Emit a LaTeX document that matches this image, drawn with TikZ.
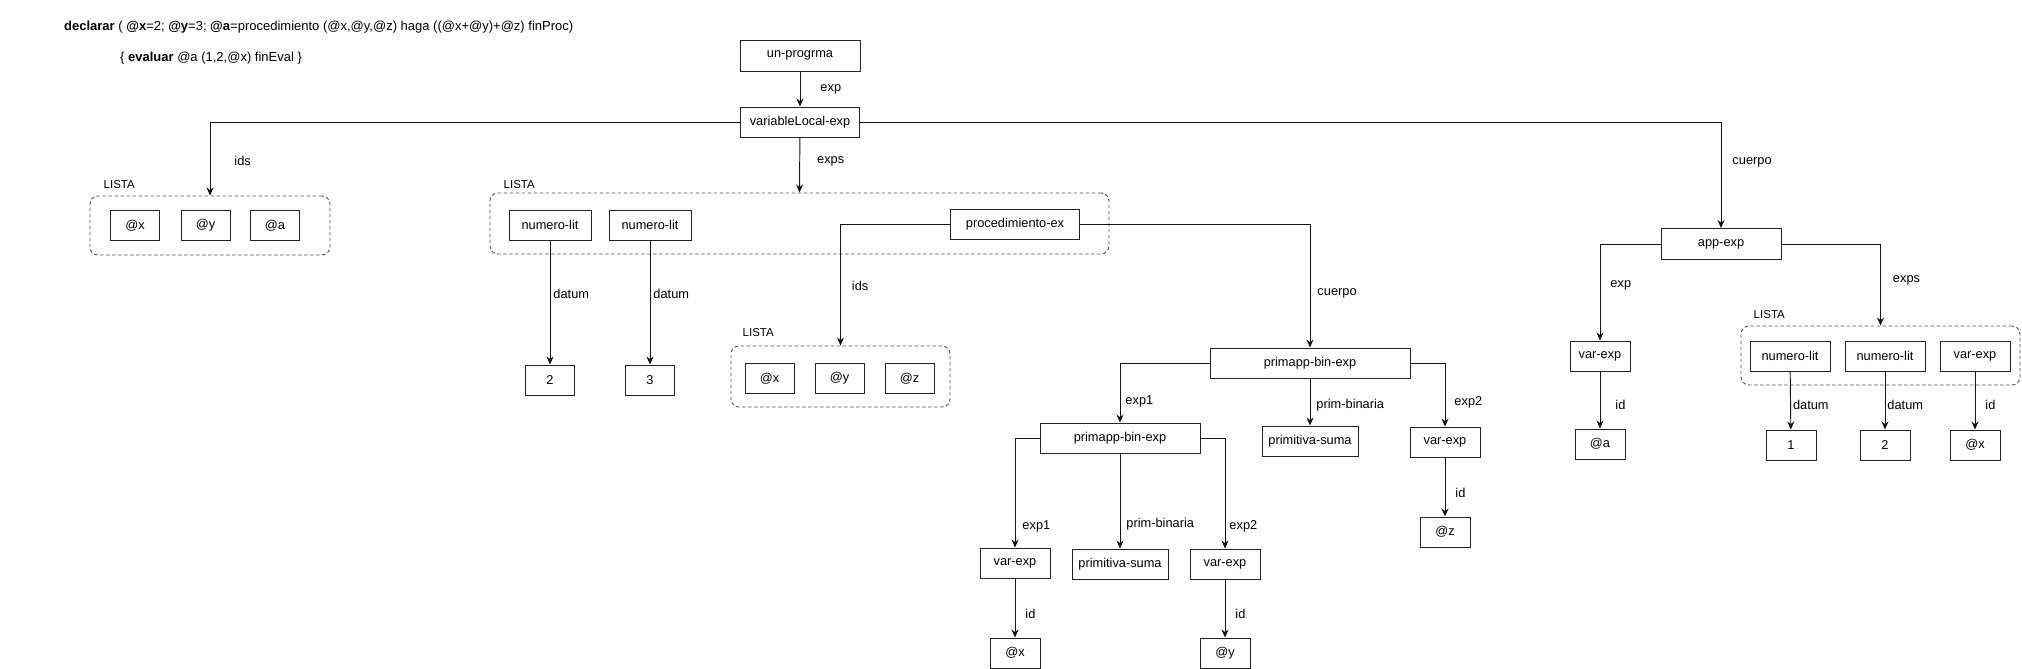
\documentclass[tikz,border=0pt]{standalone}
\usepackage{fontspec}
\setmainfont{Liberation Sans}
\usetikzlibrary{arrows.meta,positioning}
\definecolor{astborde}{RGB}{35,35,35}
\definecolor{astlinea}{RGB}{20,20,20}
\definecolor{astlista}{RGB}{85,85,85}

\begin{document}
\begin{tikzpicture}[x=1pt, y=-1pt,
  every node/.style={font=\fontsize{12.8}{15}\selectfont},
  caja/.style={draw=astborde, line width=0.95pt, minimum height=30pt, inner sep=0pt},
  lista/.style={draw=astlista, line width=0.95pt, dash pattern=on 3.5pt off 2.5pt, rounded corners=8pt, inner sep=0pt},
  flecha/.style={draw=astlinea, line width=0.95pt, -{Stealth[length=8pt,width=7pt]}},
  etiq/.style={anchor=west, inner sep=0pt, xshift=#1},
  etiq/.default=8pt,
  nombre/.style={inner sep=0pt},
  titlista/.style={inner sep=0pt, font=\fontsize{11.5}{13}\selectfont}]
  \useasboundingbox (0,0) rectangle (2022,669);

  \node[nombre, anchor=west, font=\fontsize{13}{15}\selectfont] (titulo1) at (64,27) {\textbf{declarar} ( \textbf{@x}=2; \textbf{@y}=3; \textbf{@a}=procedimiento (@x,@y,@z) haga ((@x+@y)+@z) finProc)};
  \node[nombre, anchor=west, font=\fontsize{13}{15}\selectfont] (titulo2) at (120,58) {\{ \textbf{evaluar} @a (1,2,@x) finEval \}};

  \node[caja, minimum width=120pt, minimum height=31pt] (unprog) at (800,55.5) {un-progrma};
  \node[caja, minimum width=119pt] (varloc) at (800,122) {variableLocal-exp};

  \node[lista, minimum width=240pt, minimum height=59pt] (lista1) at (210,225.5) {};
  \node[titlista, above right=7pt and 14pt of lista1.north west] (tlista1) {LISTA};
  \node[caja, minimum width=49pt] (ax1) at (135,225.5) {@x};
  \node[caja, minimum width=49pt] (ay1) at (205.5,225.5) {@y};
  \node[caja, minimum width=49pt] (aa1) at (275,225.5) {@a};

  \node[lista, minimum width=619pt, minimum height=61pt] (lista2) at (799.5,223.5) {};
  \node[titlista, above right=4pt and 14pt of lista2.north west] (tlista2) {LISTA};
  \node[caja, minimum width=82pt] (numlit1) at (550,225) {numero-lit};
  \node[caja, minimum width=82pt] (numlit2) at (650,225) {numero-lit};
  \node[caja, minimum width=129pt] (proc) at (1015,224.5) {procedimiento-ex};
  \node[caja, minimum width=49pt] (dos) at (550,380) {2};
  \node[caja, minimum width=49pt] (tres) at (650,380) {3};

  \node[lista, minimum width=219pt, minimum height=61pt] (lista3) at (840.5,376.5) {};
  \node[titlista, above right=9pt and 12pt of lista3.north west] (tlista3) {LISTA};
  \node[caja, minimum width=49pt] (ax3) at (769.5,378.5) {@x};
  \node[caja, minimum width=49pt] (ay3) at (839.5,378.5) {@y};
  \node[caja, minimum width=49pt] (az3) at (909.5,378.5) {@z};

  \node[caja, minimum width=200pt] (prim1) at (1310,363) {primapp-bin-exp};
  \node[caja, minimum width=160pt] (prim2) at (1120,438) {primapp-bin-exp};
  \node[caja, minimum width=96pt] (suma1) at (1310,441) {primitiva-suma};
  \node[caja, minimum width=70pt] (var3) at (1445,442) {var-exp};
  \node[caja, minimum width=50pt] (atz) at (1445,532) {@z};
  \node[caja, minimum width=70pt] (var1) at (1015,563) {var-exp};
  \node[caja, minimum width=96pt] (suma2) at (1120,564) {primitiva-suma};
  \node[caja, minimum width=70pt] (var2) at (1225,564) {var-exp};
  \node[caja, minimum width=50pt] (atx) at (1015,653) {@x};
  \node[caja, minimum width=50pt] (aty) at (1225,653) {@y};

  \node[caja, minimum width=120pt, minimum height=31pt] (appexp) at (1721,244) {app-exp};
  \node[caja, minimum width=60pt] (varA) at (1600,356) {var-exp};
  \node[caja, minimum width=50pt] (atA) at (1600,444) {@a};
  \node[lista, minimum width=279pt, minimum height=59pt] (lista4) at (1880.5,355.5) {};
  \node[titlista, above right=7pt and 13pt of lista4.north west] (tlista4) {LISTA};
  \node[caja, minimum width=80pt] (numlit3) at (1790,356) {numero-lit};
  \node[caja, minimum width=80pt] (numlit4) at (1885,356) {numero-lit};
  \node[caja, minimum width=70pt] (var4) at (1975,356) {var-exp};
  \node[caja, minimum width=50pt] (uno) at (1791,445) {1};
  \node[caja, minimum width=50pt] (dos2) at (1885,445) {2};
  \node[caja, minimum width=50pt] (atx4) at (1975,445) {@x};

  \draw[flecha] (unprog) -- (varloc) node[etiq=20pt, pos=0.5] (l1) {exp};
  \draw[flecha] (varloc.west) -| (lista1.north) node[etiq=24pt, pos=0.765] (l2) {ids};
  \draw[flecha] (varloc) -- (lista2.north) node[etiq=17pt, pos=0.43] (l3) {exps};
  \draw[flecha] (varloc.east) -| (appexp.north) node[etiq=11pt, pos=0.69] (l4) {cuerpo};

  \draw[flecha] (proc.west) -| (lista3.north) node[etiq=11pt, pos=0.753] (l5) {ids};
  \draw[flecha] (proc.east) -| (prim1.north) node[etiq=7pt, pos=0.78] (l6) {cuerpo};
  \draw[flecha] (numlit1) -- (dos) node[etiq=3pt, pos=0.43] (l7) {datum};
  \draw[flecha] (numlit2) -- (tres) node[etiq=3pt, pos=0.43] (l8) {datum};

  \draw[flecha] (prim1.west) -| (prim2.north) node[etiq=5pt, pos=0.825] (l9) {exp1};
  \draw[flecha] (prim1) -- (suma1) node[etiq=6pt, pos=0.56] (l10) {prim-binaria};
  \draw[flecha] (prim1.east) -| (var3.north) node[etiq=9pt, pos=0.81] (l11) {exp2};
  \draw[flecha] (var3) -- (atz) node[etiq=10pt, pos=0.6] (l12) {id};
  \draw[flecha] (prim2.west) -| (var1.north) node[etiq=7pt, pos=0.905] (l13) {exp1};
  \draw[flecha] (prim2) -- (suma2) node[etiq=6pt, pos=0.74] (l14) {prim-binaria};
  \draw[flecha] (prim2.east) -| (var2.north) node[etiq=4pt, pos=0.9] (l15) {exp2};
  \draw[flecha] (var1) -- (atx) node[etiq=10pt, pos=0.6] (l16) {id};
  \draw[flecha] (var2) -- (aty) node[etiq=10pt, pos=0.6] (l17) {id};

  \draw[flecha] (appexp.west) -| (varA.north) node[etiq=10pt, pos=0.716] (l18) {exp};
  \draw[flecha] (appexp.east) -| (lista4.north) node[etiq=12pt, pos=0.726] (l19) {exps};
  \draw[flecha] (varA) -- (atA) node[etiq=15pt, pos=0.59] (l20) {id};
  \draw[flecha] (numlit3) -- (uno) node[etiq=2pt, pos=0.58] (l21) {datum};
  \draw[flecha] (numlit4) -- (dos2) node[etiq=2pt, pos=0.58] (l22) {datum};
  \draw[flecha] (var4) -- (atx4) node[etiq=10pt, pos=0.58] (l23) {id};
\end{tikzpicture}
\end{document}
